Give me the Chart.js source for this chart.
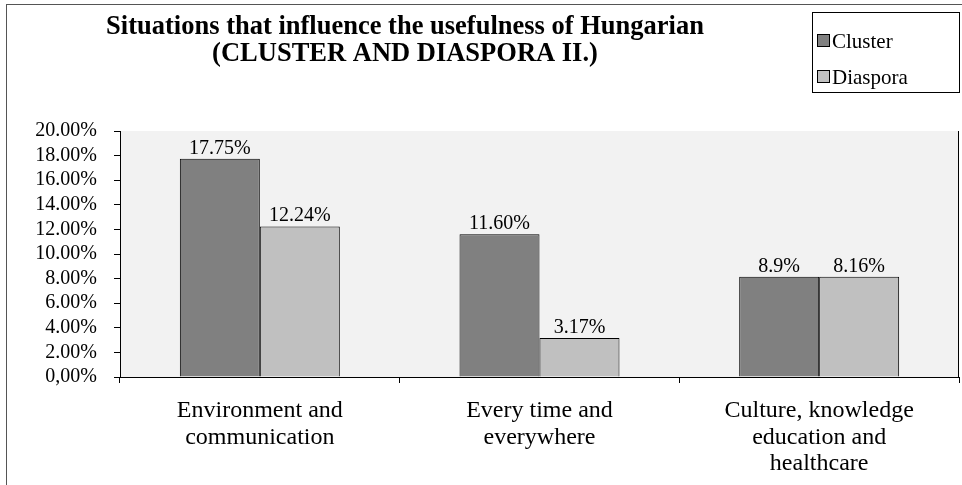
<!DOCTYPE html>
<html>
<head>
<meta charset="utf-8">
<script src="https://cdn.jsdelivr.net/npm/chart.js@4.4.0/dist/chart.umd.min.js"></script>
<style>
  html, body { margin: 0; padding: 0; background: #fff; }
</style>
</head>
<body>
<canvas id="usefulChart" width="962" height="485"></canvas>
<script>
// Data
const categories = [
    ['Environment and', 'communication'],
    ['Every time and', 'everywhere'],
    ['Culture, knowledge', 'education and', 'healthcare']
];
const clusterValues = [17.75, 11.60, 8.16];
const diasporaValues = [12.24, 3.17, 8.16];
// the printed labels (third cluster bar is labelled 8.9% in the source)
const clusterLabels = ['17.75%', '11.60%', '8.9%'];
const diasporaLabels = ['12.24%', '3.17%', '8.16%'];
const seriesNames = ['Cluster', 'Diaspora'];
const titleLines = ['Situations that influence the usefulness of Hungarian', '(CLUSTER AND DIASPORA II.)'];

const serif = 'Liberation Serif, Times New Roman, serif';

// background, frame, title, legend and value labels
const decorations = {
    id: 'decorations',
    beforeDraw(chart) {
        const ctx = chart.ctx;
        const a = chart.chartArea;
        ctx.save();
        ctx.fillStyle = '#ffffff';
        ctx.fillRect(0, 0, chart.width, chart.height);
        ctx.fillStyle = '#f2f2f2';
        ctx.fillRect(a.left, a.top, a.right - a.left, a.bottom - a.top);
        ctx.strokeStyle = '#000';
        ctx.lineWidth = 1;
        ctx.beginPath();
        ctx.moveTo(a.right - 0.5, a.top);
        ctx.lineTo(a.right - 0.5, a.bottom);
        ctx.stroke();
        ctx.restore();
    },
    afterDatasetsDraw(chart) {
        const ctx = chart.ctx;
        const labelSets = [clusterLabels, diasporaLabels];
        ctx.save();
        ctx.font = '20px ' + serif;
        ctx.fillStyle = '#000';
        ctx.textAlign = 'center';
        ctx.textBaseline = 'alphabetic';
        chart.data.datasets.forEach((ds, i) => {
            chart.getDatasetMeta(i).data.forEach((bar, j) => {
                ctx.fillText(labelSets[i][j], bar.x, bar.y - 5);
            });
        });
        ctx.restore();
    },
    afterDraw(chart) {
        const ctx = chart.ctx;
        ctx.save();
        // outer frame
        ctx.strokeStyle = '#555';
        ctx.lineWidth = 1;
        ctx.strokeRect(6.5, 4.5, 970, 490);

        // title
        ctx.fillStyle = '#000';
        ctx.font = 'bold 26.5px ' + serif;
        ctx.textAlign = 'center';
        ctx.textBaseline = 'middle';
        ctx.fillText(titleLines[0], 405, 27);
        ctx.fillText(titleLines[1], 405, 54);

        // legend box
        ctx.strokeStyle = '#000';
        ctx.strokeRect(812.5, 12.5, 147, 80);
        const colors = chart.data.datasets.map(d => d.backgroundColor);
        ctx.font = '21px ' + serif;
        ctx.textAlign = 'left';
        seriesNames.forEach((name, i) => {
            const y = 41 + i * 36;
            ctx.fillStyle = colors[i];
            ctx.fillRect(817.5, y - 6.5, 12, 12);
            ctx.strokeRect(817.5, y - 6.5, 12, 12);
            ctx.fillStyle = '#000';
            ctx.fillText(name, 832, y + 1);
        });
        ctx.restore();
    }
};

const ctxUseful = document.getElementById('usefulChart').getContext('2d');
const usefulChart = new Chart(ctxUseful, {
    type: 'bar',
    data: {
        labels: categories,
        datasets: [
            {
                label: seriesNames[0],
                data: clusterValues,
                backgroundColor: '#808080',
                borderColor: '#000000',
                borderWidth: 1
            },
            {
                label: seriesNames[1],
                data: diasporaValues,
                backgroundColor: '#c0c0c0',
                borderColor: '#000000',
                borderWidth: 1
            }
        ]
    },
    options: {
        responsive: false,
        animation: false,
        devicePixelRatio: 1,
        datasets: {
            bar: {
                categoryPercentage: 0.572,
                barPercentage: 1
            }
        },
        layout: {
            padding: { top: 131, right: 3, left: 0, bottom: 0 }
        },
        scales: {
            x: {
                afterFit: function(scale) { scale.height = 108; },
                grid: {
                    offset: true,
                    drawOnChartArea: false,
                    drawTicks: true,
                    tickLength: 6,
                    color: '#000'
                },
                border: { display: true, color: '#000' },
                ticks: {
                    color: '#000',
                    padding: 15,
                    maxRotation: 0,
                    font: { family: serif, size: 24, lineHeight: 1.1 }
                }
            },
            y: {
                min: 0,
                max: 20,
                afterFit: function(scale) { scale.width = 120; },
                grid: {
                    drawOnChartArea: false,
                    drawTicks: true,
                    tickLength: 6,
                    color: '#000'
                },
                border: { display: true, color: '#000' },
                ticks: {
                    stepSize: 2,
                    autoSkip: false,
                    color: '#000',
                    padding: 17,
                    font: { family: serif, size: 20 },
                    callback: function(value) {
                        return value === 0 ? '0,00%' : value.toFixed(2) + '%';
                    }
                }
            }
        },
        plugins: {
            legend: { display: false },
            title: { display: false },
            tooltip: { enabled: false }
        }
    },
    plugins: [decorations]
});
</script>
</body>
</html>
